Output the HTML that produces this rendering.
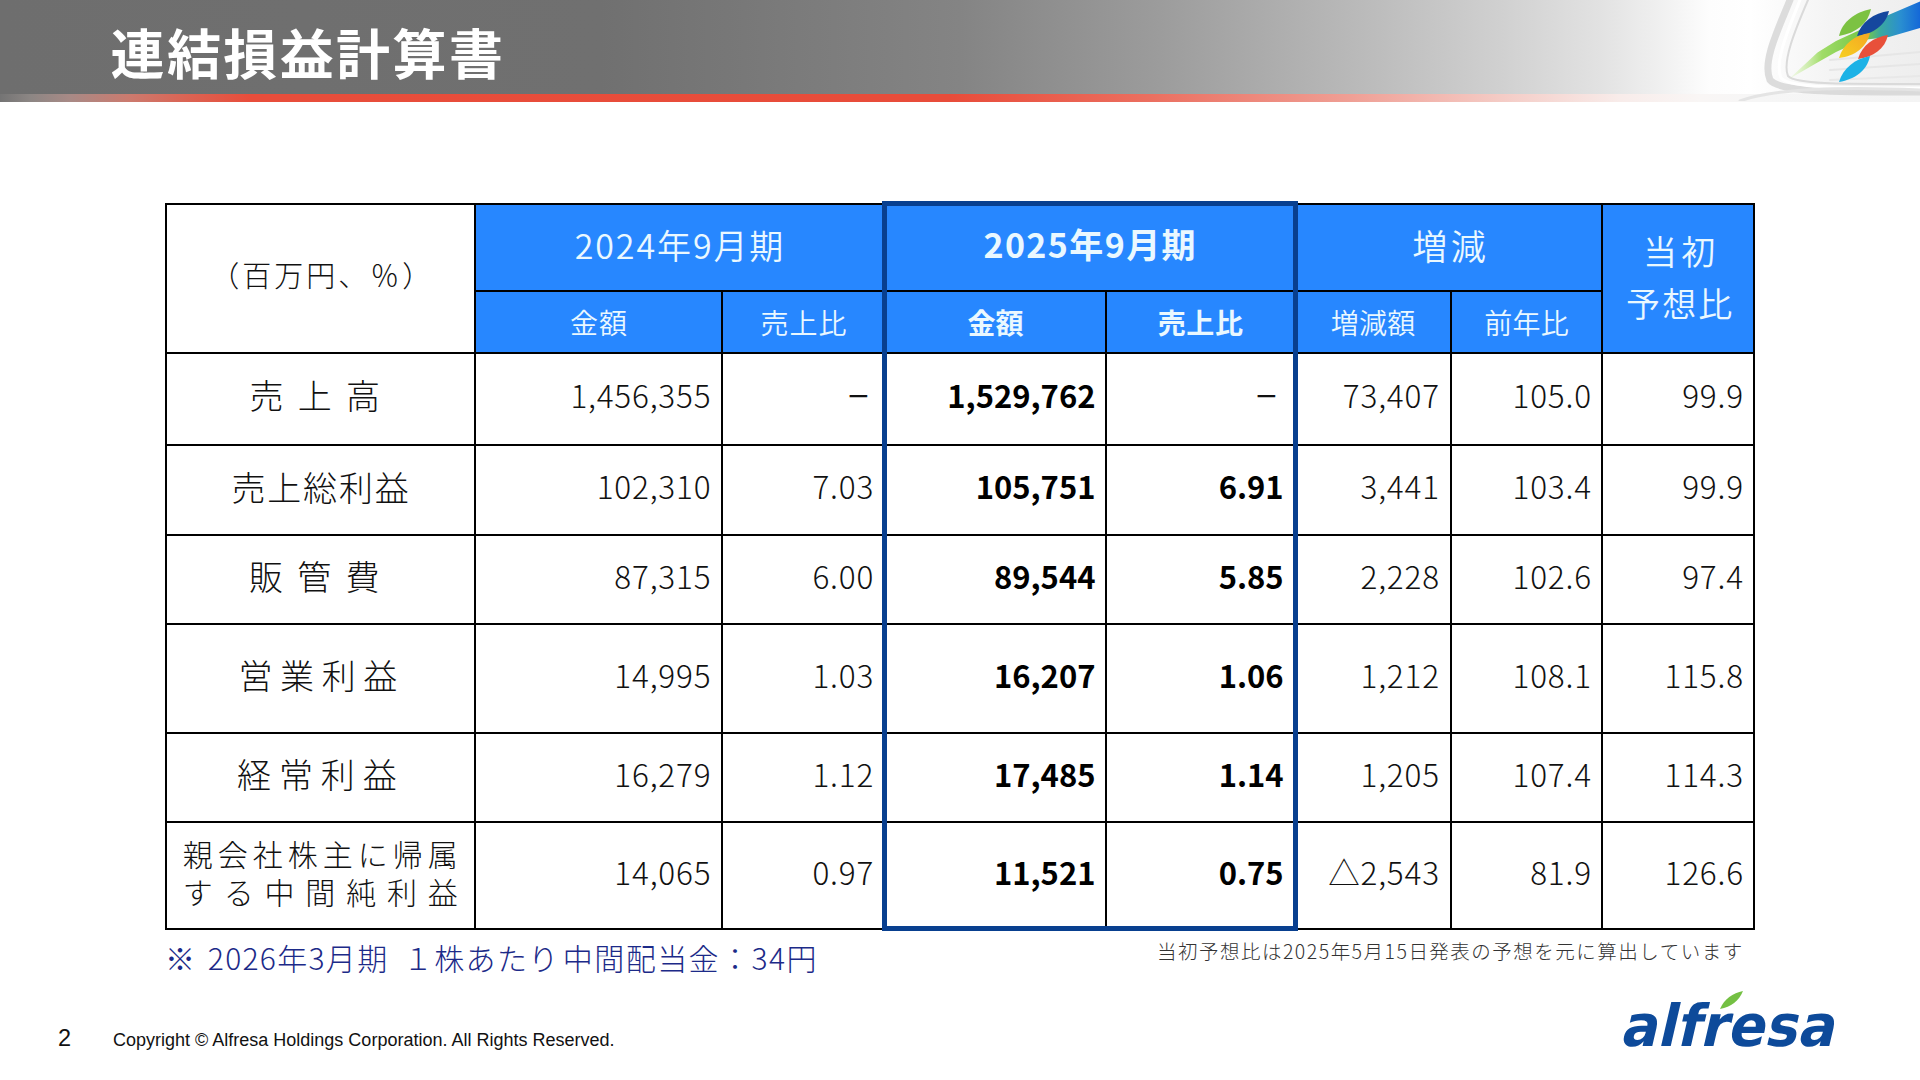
<!DOCTYPE html>
<html lang="ja"><head><meta charset="utf-8"><title>連結損益計算書</title>
<style>
*{margin:0;padding:0;box-sizing:border-box}
html,body{width:1920px;height:1080px;overflow:hidden;background:#fff}
body{position:relative;font-family:"Liberation Sans","Noto Sans CJK JP",sans-serif;color:#111}
.a{position:absolute}
.t{position:absolute;white-space:nowrap;line-height:1;font-family:'Noto Sans CJK JP',sans-serif}
.hl{position:absolute;background:#000;height:2px}
.vl{position:absolute;background:#000;width:2px}
.hd{color:#eaf8ff;font-weight:350}
.n{font-weight:300;color:#111}
.nb{font-weight:700;color:#000}
.lb{font-weight:300;color:#111;font-size:34px}
</style></head><body>

<div class="a" style="left:0;top:0;width:1920px;height:94px;background:linear-gradient(90deg,#6e6e6e 0px,#707070 600px,#848484 960px,#9c9c9c 1160px,#bababa 1360px,#d0d0d0 1500px,#e2e2e2 1600px,#f0f0f0 1660px,#fdfdfd 1710px,#ffffff 1750px,#f4f4f4 1830px,#eeeeee 1920px)"></div>
<div class="a" style="left:0;top:94px;width:1920px;height:7.5px;background:linear-gradient(90deg,#747474 0px,#8c8684 30px,#a88a86 70px,#cc7a6e 130px,#dc6252 190px,#e84d3b 250px,#e84c3a 950px,#eb6f60 1150px,#ef9f95 1350px,#f4cbc5 1500px,#f8ecea 1620px,#f9f6f5 1700px,#f6f6f6 1760px,#f4f4f4 1920px)"></div>

<svg class="a" style="left:1700px;top:0" width="220" height="101" viewBox="1700 0 220 101">
<defs>
<linearGradient id="comet" gradientUnits="userSpaceOnUse" x1="1789" y1="0" x2="1920" y2="0"><stop offset="0" stop-color="#d8f5b0" stop-opacity="0.2"/><stop offset="0.25" stop-color="#a0dc68"/><stop offset="0.5" stop-color="#7fcb4c"/><stop offset="0.62" stop-color="#68c060"/><stop offset="0.7" stop-color="#3aa8a0"/><stop offset="0.85" stop-color="#2a8fd0"/><stop offset="1" stop-color="#1468d8"/></linearGradient>
<linearGradient id="streak" x1="0" y1="1" x2="1" y2="0"><stop offset="0" stop-color="#c8f0a0" stop-opacity="0"/><stop offset="0.35" stop-color="#9ad860"/><stop offset="1" stop-color="#6cc040"/></linearGradient>
<linearGradient id="yel" x1="0" y1="1" x2="1" y2="0"><stop offset="0" stop-color="#f6d020"/><stop offset="1" stop-color="#f5a623"/></linearGradient>
</defs>
<g fill="none" stroke-linecap="round">
<path d="M1790 0 C1778 30 1762 62 1770 80 C1780 92 1830 92 1920 92" stroke="#d6d6d6" stroke-width="7" opacity="0.85"/>
<path d="M1800 0 C1788 30 1774 62 1781 78 C1790 88 1840 88 1920 88" stroke="#ffffff" stroke-width="3"/>
<path d="M1808 0 C1795 30 1782 62 1788 76 C1797 85 1850 84 1920 84" stroke="#dadada" stroke-width="2"/>
<path d="M1740 101 C1770 90 1830 86 1920 90" stroke="#e4e4e4" stroke-width="3"/>
<path d="M1830 60 L1920 52" stroke="#e6e6e6" stroke-width="2"/>
<path d="M1830 70 L1920 64" stroke="#e6e6e6" stroke-width="2"/>
<path d="M1830 80 L1920 76" stroke="#e8e8e8" stroke-width="2"/>
</g>

<path d="M1789 79 L1817.5 52.5 L1836 41 L1862 29 L1872 22 L1920 1.5 L1920 28 L1889 37 L1862 40 L1836 52 L1817.5 62.5 Z" fill="url(#comet)"/>
<path d="M1839 36 C1842 22 1855 12 1871 9 C1868 24 1856 33 1839 36 Z" fill="#7cc242"/>
<path d="M1857 36 C1861 22 1874 13 1889 11 C1886 25 1873 34 1857 36 Z" fill="#15479e"/>
<path d="M1839 58 C1843 44 1855 35 1870 33 C1867 47 1855 56 1839 58 Z" fill="url(#yel)"/>
<path d="M1858 59 C1862 45 1874 37 1888 35 C1885 49 1873 57 1858 59 Z" fill="#e8503a"/>
<path d="M1839 82 C1843 68 1855 59 1870 56 C1867 71 1855 79 1839 82 Z" fill="#1cb2e6"/>
</svg>

<div class="t" style="left:110.5px;top:24.8px;font-weight:700;font-size:54px;letter-spacing:2.4px;color:#fff">連結損益計算書</div>
<div class="a" style="left:474.5px;top:203.5px;width:1279.5px;height:149.0px;background:#2787ff"></div>
<div class="hl" style="left:165px;top:202.5px;width:1590px"></div>
<div class="hl" style="left:473.5px;top:290.3px;width:1129.5px"></div>
<div class="hl" style="left:165px;top:351.5px;width:1590px"></div>
<div class="hl" style="left:165px;top:444px;width:1590px"></div>
<div class="hl" style="left:165px;top:533.7px;width:1590px"></div>
<div class="hl" style="left:165px;top:623.2px;width:1590px"></div>
<div class="hl" style="left:165px;top:731.7px;width:1590px"></div>
<div class="hl" style="left:165px;top:821.3px;width:1590px"></div>
<div class="hl" style="left:165px;top:927.8px;width:1590px"></div>
<div class="vl" style="left:165px;top:202.5px;height:727.3px"></div>
<div class="vl" style="left:473.5px;top:202.5px;height:727.3px"></div>
<div class="vl" style="left:883.5px;top:202.5px;height:727.3px"></div>
<div class="vl" style="left:1294px;top:202.5px;height:727.3px"></div>
<div class="vl" style="left:1601px;top:202.5px;height:727.3px"></div>
<div class="vl" style="left:1753px;top:202.5px;height:727.3px"></div>
<div class="vl" style="left:721px;top:290.3px;height:639.5px"></div>
<div class="vl" style="left:1105px;top:290.3px;height:639.5px"></div>
<div class="vl" style="left:1449.5px;top:290.3px;height:639.5px"></div>
<div class="t " style="left:210.3px;top:260px;font-size:29px;letter-spacing:3px;color:#111;font-weight:300">（百万円、％）</div>
<div class="t hd" style="left:379.0px;width:600px;text-align:center;top:227.5px;font-size:34px;letter-spacing:1.9px;margin-left:1px">2024年9月期</div>
<div class="t hd" style="left:789.5px;width:600px;text-align:center;top:227px;font-size:34px;font-weight:700;letter-spacing:1.4px;margin-left:0.7px">2025年9月期</div>
<div class="t hd" style="left:1149px;width:600px;text-align:center;top:227px;font-size:35px;letter-spacing:3.5px;margin-left:1.7px">増減</div>
<div class="t hd" style="left:1379.2px;width:600px;text-align:center;top:234px;font-size:34px;letter-spacing:4.5px;margin-left:2.2px">当初</div>
<div class="t hd" style="left:1379.2px;width:600px;text-align:center;top:285.5px;font-size:34px;letter-spacing:2.2px;margin-left:1.1px">予想比</div>
<div class="t hd" style="left:298.4px;width:600px;text-align:center;top:307.5px;font-size:28px;letter-spacing:1px;margin-left:.5px">金額</div>
<div class="t hd" style="left:503.5px;width:600px;text-align:center;top:307.5px;font-size:28px;letter-spacing:1px;margin-left:.5px">売上比</div>
<div class="t hd" style="left:695.6px;width:600px;text-align:center;top:307.5px;font-size:28px;font-weight:700">金額</div>
<div class="t hd" style="left:900.7px;width:600px;text-align:center;top:307.5px;font-size:28px;font-weight:700;letter-spacing:.7px">売上比</div>
<div class="t hd" style="left:1073.2px;width:600px;text-align:center;top:307.5px;font-size:28px;letter-spacing:.3px">増減額</div>
<div class="t hd" style="left:1226.7px;width:600px;text-align:center;top:307.5px;font-size:28px;letter-spacing:.3px">前年比</div>
<div class="t lb" style="left:249.5px;top:378px;letter-spacing:14.2px">売上高</div>
<div class="t lb" style="left:231.5px;top:470.2px;letter-spacing:1.8px">売上総利益</div>
<div class="t lb" style="left:249px;top:559px;letter-spacing:14.3px">販管費</div>
<div class="t lb" style="left:238.5px;top:658px;letter-spacing:7.6px">営業利益</div>
<div class="t lb" style="left:237px;top:757px;letter-spacing:7.9px">経常利益</div>
<div class="t lb" style="left:182.8px;top:834px;width:275px;font-size:30px;line-height:38px;white-space:normal;text-align:justify;text-align-last:justify">親会社株主に帰属<br>する中間純利益</div>
<div class="t n" style="right:1208.7px;top:379.2px;font-size:31.5px;letter-spacing:0.8px">1,456,355</div>
<div class="t n" style="right:1049.3000000000002px;top:379.2px;font-size:31.5px;font-weight:400"><span style="display:inline-block;transform:scaleX(.77);transform-origin:100% 50%">－</span></div>
<div class="t nb" style="right:824.5px;top:379.2px;font-size:31px">1,529,762</div>
<div class="t n" style="right:641.0px;top:379.2px;font-size:31.5px;font-weight:400"><span style="display:inline-block;transform:scaleX(.77);transform-origin:100% 50%">－</span></div>
<div class="t n" style="right:480.20000000000005px;top:379.2px;font-size:31.5px;letter-spacing:0.8px">73,407</div>
<div class="t n" style="right:328.20000000000005px;top:379.2px;font-size:31.5px;letter-spacing:0.8px">105.0</div>
<div class="t n" style="right:176.20000000000005px;top:379.2px;font-size:31.5px;letter-spacing:0.8px">99.9</div>
<div class="t n" style="right:1208.7px;top:470.4px;font-size:31.5px;letter-spacing:0.8px">102,310</div>
<div class="t n" style="right:1045.9px;top:470.4px;font-size:31.5px;letter-spacing:0.8px">7.03</div>
<div class="t nb" style="right:824.5px;top:470.4px;font-size:31px">105,751</div>
<div class="t nb" style="right:636.4000000000001px;top:470.4px;font-size:31px">6.91</div>
<div class="t n" style="right:480.20000000000005px;top:470.4px;font-size:31.5px;letter-spacing:0.8px">3,441</div>
<div class="t n" style="right:328.20000000000005px;top:470.4px;font-size:31.5px;letter-spacing:0.8px">103.4</div>
<div class="t n" style="right:176.20000000000005px;top:470.4px;font-size:31.5px;letter-spacing:0.8px">99.9</div>
<div class="t n" style="right:1208.7px;top:560.0px;font-size:31.5px;letter-spacing:0.8px">87,315</div>
<div class="t n" style="right:1045.9px;top:560.0px;font-size:31.5px;letter-spacing:0.8px">6.00</div>
<div class="t nb" style="right:824.5px;top:560.0px;font-size:31px">89,544</div>
<div class="t nb" style="right:636.4000000000001px;top:560.0px;font-size:31px">5.85</div>
<div class="t n" style="right:480.20000000000005px;top:560.0px;font-size:31.5px;letter-spacing:0.8px">2,228</div>
<div class="t n" style="right:328.20000000000005px;top:560.0px;font-size:31.5px;letter-spacing:0.8px">102.6</div>
<div class="t n" style="right:176.20000000000005px;top:560.0px;font-size:31.5px;letter-spacing:0.8px">97.4</div>
<div class="t n" style="right:1208.7px;top:659.0px;font-size:31.5px;letter-spacing:0.8px">14,995</div>
<div class="t n" style="right:1045.9px;top:659.0px;font-size:31.5px;letter-spacing:0.8px">1.03</div>
<div class="t nb" style="right:824.5px;top:659.0px;font-size:31px">16,207</div>
<div class="t nb" style="right:636.4000000000001px;top:659.0px;font-size:31px">1.06</div>
<div class="t n" style="right:480.20000000000005px;top:659.0px;font-size:31.5px;letter-spacing:0.8px">1,212</div>
<div class="t n" style="right:328.20000000000005px;top:659.0px;font-size:31.5px;letter-spacing:0.8px">108.1</div>
<div class="t n" style="right:176.20000000000005px;top:659.0px;font-size:31.5px;letter-spacing:0.8px">115.8</div>
<div class="t n" style="right:1208.7px;top:758.0px;font-size:31.5px;letter-spacing:0.8px">16,279</div>
<div class="t n" style="right:1045.9px;top:758.0px;font-size:31.5px;letter-spacing:0.8px">1.12</div>
<div class="t nb" style="right:824.5px;top:758.0px;font-size:31px">17,485</div>
<div class="t nb" style="right:636.4000000000001px;top:758.0px;font-size:31px">1.14</div>
<div class="t n" style="right:480.20000000000005px;top:758.0px;font-size:31.5px;letter-spacing:0.8px">1,205</div>
<div class="t n" style="right:328.20000000000005px;top:758.0px;font-size:31.5px;letter-spacing:0.8px">107.4</div>
<div class="t n" style="right:176.20000000000005px;top:758.0px;font-size:31.5px;letter-spacing:0.8px">114.3</div>
<div class="t n" style="right:1208.7px;top:856.0px;font-size:31.5px;letter-spacing:0.8px">14,065</div>
<div class="t n" style="right:1045.9px;top:856.0px;font-size:31.5px;letter-spacing:0.8px">0.97</div>
<div class="t nb" style="right:824.5px;top:856.0px;font-size:31px">11,521</div>
<div class="t nb" style="right:636.4000000000001px;top:856.0px;font-size:31px">0.75</div>
<div class="t n" style="right:480.20000000000005px;top:856.0px;font-size:31.5px;letter-spacing:0.8px">△2,543</div>
<div class="t n" style="right:328.20000000000005px;top:856.0px;font-size:31.5px;letter-spacing:0.8px">81.9</div>
<div class="t n" style="right:176.20000000000005px;top:856.0px;font-size:31.5px;letter-spacing:0.8px">126.6</div>
<div class="a" style="left:882px;top:201px;width:416px;height:730px;border:5.5px solid #083f8f"></div>
<div class="t " style="left:165px;top:941.7px;font-size:30px;letter-spacing:1.3px;color:#1c2a88;font-weight:300">※</div>
<div class="t " style="left:207.8px;top:941.7px;font-size:30px;letter-spacing:1.3px;color:#1c2a88;font-weight:300">2026年3月期</div>
<div class="t " style="left:403px;top:941.7px;font-size:30px;letter-spacing:1.3px;color:#1c2a88;font-weight:300">１株あたり</div>
<div class="t " style="left:562.8px;top:941.7px;font-size:30px;letter-spacing:1.3px;color:#1c2a88;font-weight:300;letter-spacing:1.45px">中間配当金：34円</div>
<div class="t " style="left:1157px;top:940.8px;font-size:19.5px;letter-spacing:1.49px;color:#333;font-weight:300">当初予想比は2025年5月15日発表の予想を元に算出しています</div>
<div class="a" style="left:58px;top:1025px;font-family:'Liberation Sans',sans-serif;font-size:23.5px;line-height:26px;color:#111">2</div>
<div class="a" style="left:113px;top:1029px;font-family:'Liberation Sans',sans-serif;font-size:18px;line-height:22px;color:#111;white-space:nowrap">Copyright © Alfresa Holdings Corporation. All Rights Reserved.</div>

<svg class="a" style="left:1600px;top:980px" width="260" height="80" viewBox="1600 980 260 80">
<path d="M1720 1009 C1724 999 1733 993 1743 991 C1739 1001 1731 1007 1720 1009 Z" fill="#74c043"/>
<g transform="translate(1619.5,1045.5) skewX(-13)"><text x="0" y="0" font-family="'DejaVu Sans',sans-serif" font-weight="700" font-size="58" fill="#0d4a9a" textLength="214" lengthAdjust="spacingAndGlyphs">alfresa</text></g>
</svg>

</body></html>
